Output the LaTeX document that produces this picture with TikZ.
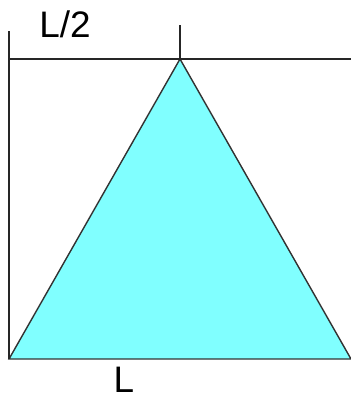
\documentclass[tikz,border=0pt]{standalone}
\usepackage{fontspec}
\setmainfont{Liberation Sans}
\usetikzlibrary{positioning}
\definecolor{trifill}{RGB}{128,255,255}
\tikzset{
  guideline/.style={line width=0.7pt, black!85},
  triedge/.style={line width=0.8pt, black!80, fill=trifill, line join=miter},
  dimlabel/.style={font=\fontsize{21}{25}\selectfont, inner sep=0pt},
}
\begin{document}
\begin{tikzpicture}[x=0.02cm, y=-0.02cm]

  % ── frame ──
  \useasboundingbox (0,0) rectangle (351,400);

  % ── corners ──
  \coordinate (A) at (9,359);
  \coordinate (B) at (351,359);
  \coordinate (C) at (180,59);
  \coordinate (Ltop) at (9,31);
  \coordinate (Htop) at (180,25);
  \coordinate (Hend) at (351,59);

  % ── triangle ──
  \filldraw[triedge] (A) -- (B) -- (C) -- cycle;

  % ── guides ──
  \draw[guideline] (Ltop) -- (A);
  \draw[guideline] (Ltop |- C) -- (Hend);
  \draw[guideline] (Htop) -- (C);

  % ── labels ──
  \node[dimlabel] (half) at (65,24) {L/2};
  \node[dimlabel] (full) at (124,380) {L};

\end{tikzpicture}
\end{document}
